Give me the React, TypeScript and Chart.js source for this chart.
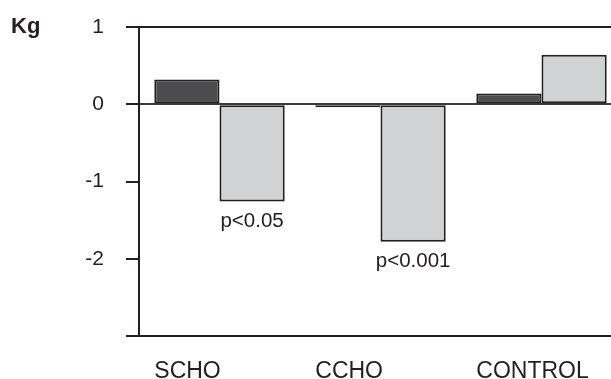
import React, { useEffect, useRef } from "react";
import { Chart, registerables } from "chart.js";

Chart.register(...registerables);

const categories = ["SCHO", "CCHO", "CONTROL"];
const darkValues = [0.32, -0.04, 0.14];
const lightValues = [-1.26, -1.78, 0.64];
const pLabels = ["p<0.05", "p<0.001", ""];
const yTickValues = [1, 0, -1, -2];
const unitLabel = "Kg";

const INK = "#231f20";
const FONT = '"Liberation Sans", Arial, sans-serif';

const labelPlugin = {
  id: "customLabels",
  afterDraw(chart: any) {
    const ctx = chart.ctx;
    const m0 = chart.getDatasetMeta(0);
    const m1 = chart.getDatasetMeta(1);
    ctx.save();
    ctx.fillStyle = INK;
    ctx.textBaseline = "alphabetic";
    ctx.font = `23px ${FONT}`;
    ctx.textAlign = "left";
    categories.forEach((c, i) => {
      const el = m0.data[i];
      const left = el.x - el.width / 2;
      ctx.fillText(c, left, chart.chartArea.bottom + 42);
    });
    ctx.font = `20.5px ${FONT}`;
    ctx.textAlign = "center";
    pLabels.forEach((p, i) => {
      if (!p) return;
      const el = m1.data[i];
      ctx.fillText(p, el.x, el.y + 25);
    });
    ctx.font = `bold 22px ${FONT}`;
    ctx.textAlign = "left";
    ctx.fillText(unitLabel, 11, chart.scales.y.getPixelForValue(1) + 6);
    ctx.restore();
  },
};

export default function App() {
  const ref = useRef<HTMLCanvasElement>(null);
  useEffect(() => {
    if (!ref.current) return;
    const chart = new Chart(ref.current, {
      type: "bar",
      data: {
        labels: categories,
        datasets: [
          {
            data: darkValues,
            backgroundColor: "#4b4c4e",
            borderColor: INK,
            borderWidth: 2,
            borderSkipped: false,
          },
          {
            data: lightValues,
            backgroundColor: "#d1d2d4",
            borderColor: INK,
            borderWidth: 2,
            borderSkipped: false,
          },
        ],
      },
      options: {
        animation: false,
        responsive: true,
        maintainAspectRatio: false,
        layout: { padding: { top: 27, bottom: 43, right: 3, left: 0 } },
        plugins: { legend: { display: false }, tooltip: { enabled: false } },
        datasets: { bar: { categoryPercentage: 0.81, barPercentage: 1 } },
        scales: {
          x: { display: false },
          y: {
            min: -3,
            max: 1,
            afterFit: (s: any) => {
              s.width = 139;
              s.paddingTop = 0;
              s.paddingBottom = 0;
            },
            ticks: {
              stepSize: 1,
              padding: 22,
              color: INK,
              font: { family: FONT, size: 21 },
              callback: (v: any) => (yTickValues.includes(v) ? String(v) : ""),
            },
            grid: {
              color: (c: any) =>
                c.tick && [1, 0, -3].includes(c.tick.value)
                  ? c.tick.value === 0
                    ? "#3a3a3a"
                    : INK
                  : "rgba(0,0,0,0)",
              tickColor: INK,
              tickLength: 13,
              lineWidth: 2,
            },
            border: { display: true, color: INK, width: 2 },
          },
        },
      },
      plugins: [labelPlugin],
    });
    return () => chart.destroy();
  }, []);

  return (
    <div
      style={{
        position: "absolute",
        left: 0,
        top: 0,
        width: 611,
        height: 379,
        overflow: "hidden",
        background: "#fff",
      }}
    >
      <div style={{ position: "relative", width: 625, height: 379 }}>
        <canvas ref={ref} />
      </div>
    </div>
  );
}
